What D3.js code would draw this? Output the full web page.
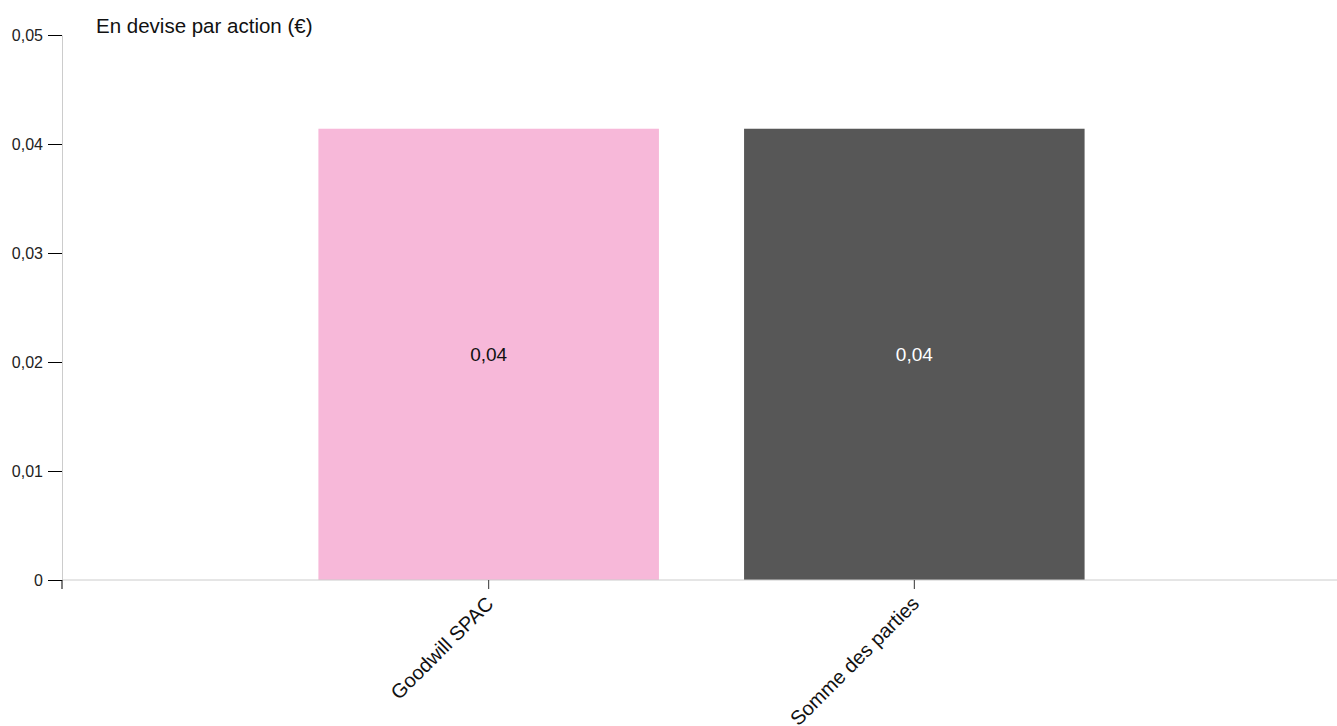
<!DOCTYPE html>
<html>
<head>
<meta charset="utf-8">
<script src="https://cdn.jsdelivr.net/npm/d3@7"></script>
<style>
  body { margin: 0; background: #fff; }
  svg { font-family: "Liberation Sans", Arial, sans-serif; }
</style>
</head>
<body>
<div id="root"></div>
<script>
const width = 1337;
const height = 726;

// data
const categories = ["Goodwill SPAC", "Somme des parties"];
const values = [0.0414, 0.0414];
const valueLabels = ["0,04", "0,04"];
const barColors = ["#f7b8d9", "#575757"];
const labelColors = ["#111", "#fff"];
const yTicks = [0, 0.01, 0.02, 0.03, 0.04, 0.05];

const margin = { top: 35, right: 0, bottom: 146, left: 62 };

const svg = d3.select("#root")
	.append("svg")
		.attr("width", width)
		.attr("height", height);

const x = d3.scaleBand()
	.domain(categories)
	.range([margin.left + 4, width - margin.right])
	.paddingInner(0.2)
	.paddingOuter(0.593);

const y = d3.scaleLinear()
	.domain([0, 0.05])
	.range([height - margin.bottom, margin.top]);

const fmt = d => d === 0 ? "0" : d3.format(".2f")(d).replace(".", ",");

// bars
svg.selectAll(".bar")
	.data(categories).enter()
	.append("rect")
		.attr("class", "bar")
		.attr("x", d => x(d))
		.attr("y", (d, i) => y(values[i]))
		.attr("width", x.bandwidth())
		.attr("height", (d, i) => y(0) - y(values[i]))
		.style("fill", (d, i) => barColors[i]);

// value labels
svg.selectAll(".val")
	.data(categories).enter()
	.append("text")
		.attr("class", "val")
		.attr("x", d => x(d) + x.bandwidth() / 2)
		.attr("y", (d, i) => (y(values[i]) + y(0)) / 2)
		.attr("dy", "0.35em")
		.attr("text-anchor", "middle")
		.style("font-size", "19px")
		.style("fill", (d, i) => labelColors[i])
		.text((d, i) => valueLabels[i]);

// y axis
const yAxis = svg.append("g")
	.attr("transform", `translate(${margin.left},0)`)
	.call(d3.axisLeft(y).tickValues(yTicks).tickFormat(fmt).tickSize(14).tickSizeOuter(0));
yAxis.select(".domain").attr("stroke", "#ccc");
yAxis.selectAll(".tick line").attr("stroke", "#000");
yAxis.selectAll(".tick text").style("font-size", "16px").attr("fill", "#222").attr("x", -19);

// x axis (domain line spans the full plot width)
const xAxis = svg.append("g")
	.attr("transform", `translate(0,${y(0)})`)
	.call(d3.axisBottom(x).tickSize(9).tickSizeOuter(0));
xAxis.select(".domain").attr("d", `M${margin.left},0H${width}`).attr("stroke", "#ccc");
xAxis.selectAll(".tick line").attr("stroke", "#333");
xAxis.selectAll(".tick text")
	.style("font-size", "20px")
	.attr("fill", "#111")
	.attr("text-anchor", "end")
	.attr("x", 0)
	.attr("y", 0)
	.attr("dy", 0)
	.attr("transform", "translate(6,25) rotate(-45)");

// small outer tick at the origin
svg.append("line")
	.attr("x1", margin.left).attr("x2", margin.left)
	.attr("y1", y(0)).attr("y2", y(0) + 9)
	.attr("stroke", "#000");

// title
svg.append("text")
	.attr("x", 96)
	.attr("y", 33)
	.style("font-size", "20.5px")
	.attr("fill", "#111")
	.text("En devise par action (€)");
</script>
</body>
</html>
